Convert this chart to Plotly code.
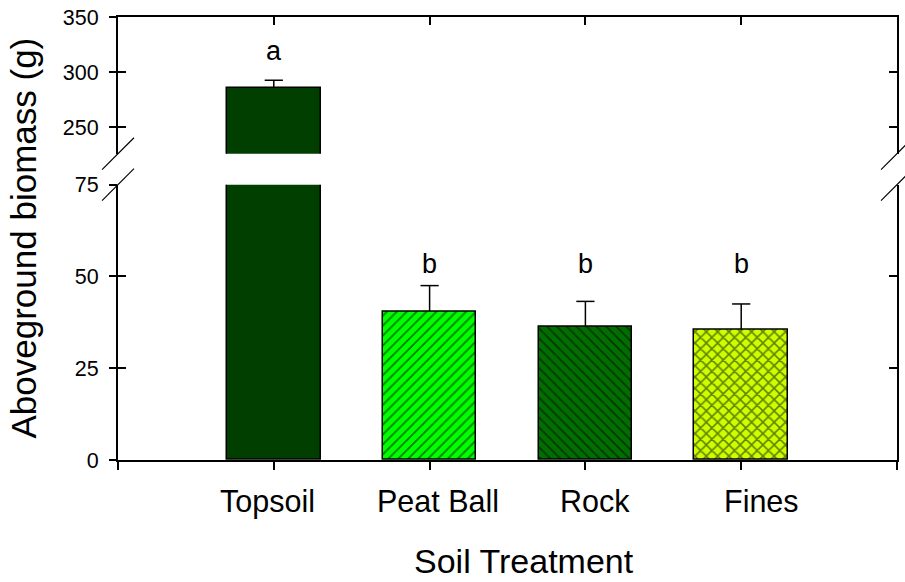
import plotly.graph_objects as go

# Aboveground biomass by soil treatment (mean + SE), broken y axis
categories = ["Topsoil", "Peat Ball", "Rock", "Fines"]
biomass = [285.7, 40.5, 36.2, 35.5]
se = [7.0, 7.0, 7.0, 7.0]
letters = ["a", "b", "b", "b"]

colors = ["#003f00", "#00ff00", "#006f00", "#ccff00"]
patterns = ["", "/", "\\", "x"]

lower_range = [0, 75]
upper_range = [226, 350]
lower_ticks = [0, 25, 50, 75]
upper_ticks = [250, 300, 350]

FONT = "Liberation Sans, Arial, sans-serif"
pos = list(range(len(categories)))
tops = [b + e for b, e in zip(biomass, se)]

fig = go.Figure()


def bar_trace(i, xa, ya):
    solid = 0.35 if patterns[i] == "x" else 0.25
    return go.Bar(
        x=[pos[i]], y=[biomass[i]], width=0.6,
        xaxis=xa, yaxis=ya, showlegend=False,
        marker=dict(
            color=colors[i],
            line=dict(color="black", width=1.5),
            pattern=dict(shape=patterns[i], fgcolor="black", bgcolor=colors[i],
                         size=7 if patterns[i] != "x" else 8, solidity=solid,
                         fillmode="overlay"),
        ),
        # upward error stem only; the cap is drawn by the marker trace below
        error_y=dict(type="data", array=[se[i]], arrayminus=[0], symmetric=False,
                     color="black", thickness=1.5, width=0),
    )


def cap_trace(idx, xa, ya):
    return go.Scatter(
        x=[pos[i] for i in idx], y=[tops[i] for i in idx], xaxis=xa, yaxis=ya,
        mode="markers", showlegend=False, hoverinfo="skip", cliponaxis=True,
        marker=dict(symbol="line-ew", size=13, line=dict(color="black", width=1.5)),
    )


upper_idx = [i for i in pos if biomass[i] > upper_range[0]]
for i in pos:
    fig.add_trace(bar_trace(i, "x", "y"))
for i in upper_idx:
    fig.add_trace(bar_trace(i, "x2", "y2"))
fig.add_trace(cap_trace(pos, "x", "y"))
fig.add_trace(cap_trace(upper_idx, "x2", "y2"))

# invisible traces to carry the overlaid tick axes
fig.add_trace(go.Scatter(x=[pos[0]], y=[lower_range[0]], xaxis="x", yaxis="y3",
                         mode="markers", marker=dict(opacity=0), showlegend=False, hoverinfo="skip"))
fig.add_trace(go.Scatter(x=[pos[0]], y=[upper_range[1]], xaxis="x2", yaxis="y4",
                         mode="markers", marker=dict(opacity=0), showlegend=False, hoverinfo="skip"))

lower_dom = [0, 0.6216]
upper_dom = [0.6914, 1]
xr = [-1, len(categories)]

axis_line = dict(showline=True, linecolor="black", linewidth=1.5, showgrid=False,
                 zeroline=False, tickcolor="black", tickwidth=1.5)

fig.update_layout(
    width=905, height=582,
    margin=dict(l=118, r=6, t=16, b=122),
    paper_bgcolor="white", plot_bgcolor="white",
    font=dict(family=FONT, color="black"),
    bargap=0,
    xaxis=dict(**axis_line, range=xr, anchor="y", domain=[0, 1],
               tickvals=[-1] + pos + [len(categories)],
               showticklabels=False, ticks="outside", ticklen=8),
    xaxis2=dict(**axis_line, range=xr, anchor="y2", side="top", domain=[0, 1],
                tickvals=pos, showticklabels=False, ticks="inside", ticklen=8),
    yaxis=dict(**axis_line, range=lower_range, domain=lower_dom, anchor="x",
               tickvals=lower_ticks, ticks="inside", ticklen=8, mirror="ticks",
               showticklabels=False),
    yaxis2=dict(**axis_line, range=upper_range, domain=upper_dom, anchor="x2",
                tickvals=upper_ticks, ticks="inside", ticklen=8, mirror="ticks",
                showticklabels=False),
    yaxis3=dict(range=lower_range, overlaying="y", anchor="x", side="left",
                showline=False, showgrid=False, zeroline=False,
                tickvals=lower_ticks, ticks="outside", ticklen=8, tickwidth=1.5,
                tickcolor="black", tickfont=dict(size=21.5, family=FONT),
                ticklabelstandoff=6),
    yaxis4=dict(range=upper_range, overlaying="y2", anchor="x2", side="left",
                showline=False, showgrid=False, zeroline=False,
                tickvals=upper_ticks, ticks="outside", ticklen=8, tickwidth=1.5,
                tickcolor="black", tickfont=dict(size=21.5, family=FONT),
                ticklabelstandoff=6),
)

# category labels under the axis
label_shift = [-6, 8, 10, 20]
for i, cat in enumerate(categories):
    fig.add_annotation(x=pos[i], y=0, xref="x", yref="y", text=cat, showarrow=False,
                       yanchor="top", yshift=-22, xshift=label_shift[i],
                       font=dict(size=30.5, family=FONT, color="black"))

# x axis title
fig.add_annotation(x=0.5, y=0, xref="paper", yref="paper", text="Soil Treatment",
                   showarrow=False, yanchor="top", yshift=-80, xshift=16,
                   font=dict(size=34, family=FONT, color="black"))

# significance letters
letter_font = dict(size=27, family=FONT, color="black")
for i, lab in enumerate(letters):
    if i in upper_idx:
        fig.add_annotation(x=pos[i], y=tops[i], xref="x2", yref="y2",
                           text=lab, showarrow=False, yanchor="bottom", yshift=12,
                           font=letter_font)
    else:
        fig.add_annotation(x=pos[i], y=53.5, xref="x", yref="y", text=lab,
                           showarrow=False, yanchor="middle", font=letter_font)

# y axis title spanning both panels
fig.add_annotation(x=0, y=0.5, xref="paper", yref="paper", text="Aboveground biomass (g)",
                   textangle=-90, showarrow=False, xshift=-95, xanchor="center",
                   yanchor="middle", font=dict(size=35, family=FONT, color="black"))

# axis break marks on both sides
dx = 16 / 781
dy = 16 / 444
for xc in (0, 1):
    for yc in (upper_dom[0], lower_dom[1]):
        fig.add_shape(type="line", xref="paper", yref="paper",
                      x0=xc - dx, y0=yc - dy, x1=xc + dx, y1=yc + dy,
                      line=dict(color="black", width=1.2))

fig.write_html("out.html")
